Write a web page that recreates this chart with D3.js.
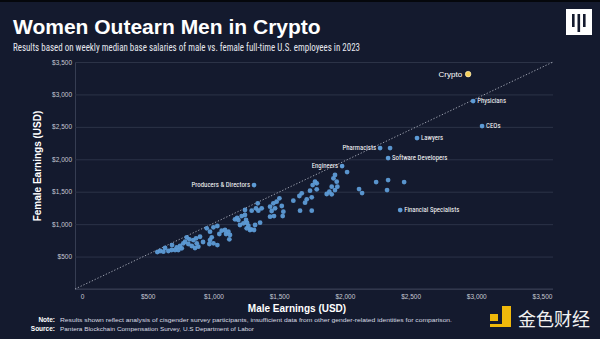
<!DOCTYPE html>
<html><head><meta charset="utf-8">
<script src="https://cdn.jsdelivr.net/npm/d3@7"></script>
<style>body{margin:0;background:#141a2e}svg{display:block}</style>
</head><body><svg id="c" width="600" height="339"></svg>
<script>
// ---- data ----
const xTickValues = [0, 500, 1000, 1500, 2000, 2500, 3000, 3500];
const xTickLabels = ["0", "$500", "$1,000", "$1,500", "$2,000", "$2,500", "$3,000", "$3,500"];
const yTickValues = [0, 500, 1000, 1500, 2000, 2500, 3000, 3500];
const yTickLabels = ["", "$500", "$1,000", "$1,500", "$2,000", "$2,500", "$3,000", "$3,500"];

const labeledNames  = ["Physicians", "CEOs", "Lawyers", "Pharmacists", "Software Developers", "Engineers", "Producers & Directors", "Financial Specialists"];
const labeledMale   = [2976, 3044, 2549, 2268, 2329, 1979, 1309, 2421];
const labeledFemale = [2897, 2512, 2327, 2173, 2018, 1895, 1602, 1217];

const cryptoName = ["Crypto"];
const cryptoMale = [2938];
const cryptoFemale = [3313];

const otherMale = [2238,2329,2451,2108,2131,2321,2344,2017,
 1925,1913,1938,1900,1925,1882,1862,1900,1943,
 1773,1786,1755,1786,1735,1748,1710,1697,1672,1654,1608,1659,1748,
 1502,1481,1456,1431,1469,1520,1443,1532,1431,1461,1527,
 1337,1324,1367,1342,1291,1240,1215,1248,1228,1190,1164,1202,1266,1253,1286,1317,1355,1309,
 1030,1000,974,949,1063,1088,1114,1126,1121,1096,1045,987,974,1000,1030,969,
 898,868,847,817,797,784,809,771,746,721,708,682,657,619,594,573,873,885,835,759,733,
 632,685,860,921,1180,1240,1256,1278];
const otherFemale = [1649,1680,1649,1541,1479,1525,2173,1803,
 1758,1706,1655,1577,1526,1500,1465,1460,1577,
 1655,1629,1603,1537,1516,1413,1383,1331,1475,1434,1362,1207,1207,
 1398,1346,1321,1269,1244,1280,1203,1192,1115,1125,1125,
 1321,1244,1244,1207,1207,1218,1125,1064,1013,1064,1074,987,971,935,920,987,1023,910,
 971,951,884,935,899,910,884,833,766,848,848,797,755,704,678,694,
 806,781,755,766,797,730,694,704,663,643,601,601,586,575,586,570,704,652,663,627,601,
 632,678,632,725,1095,1141,1018,910];

// ---- layout ----
const W = 600, H = 339;
const plotL = 75, plotR = 553, plotT = 62, plotB = 289;
const labelAnchor = {"Physicians":"start","CEOs":"start","Lawyers":"start","Pharmacists":"end",
  "Software Developers":"start","Engineers":"end","Producers & Directors":"end","Financial Specialists":"start"};

const svg = d3.select("#c");
svg.append("rect").attr("width", W).attr("height", H).attr("fill", "#141a2e");
svg.append("rect").attr("width", W).attr("height", 2).attr("fill", "#05070c");

const x = d3.scaleLinear().domain([0, 3500]).range([82, 542]);
const y = d3.scaleLinear().domain([0, 3500]).range([plotB, plotT]);

// title
svg.append("text").attr("x", 13).attr("y", 34)
  .attr("font-family", "'Liberation Sans', Arial, sans-serif").attr("font-weight", "bold")
  .attr("font-size", 21).attr("fill", "#ffffff").text("Women Outearn Men in Crypto");
svg.append("text").attr("x", 13).attr("y", 51)
  .attr("font-family", "'Liberation Sans Narrow','Roboto Condensed','Arial Narrow',sans-serif")
  .attr("font-size", 11).attr("fill", "#e6e8ee")
  .attr("textLength", 347).attr("lengthAdjust", "spacingAndGlyphs")
  .text("Results based on weekly median base salaries of male vs. female full-time U.S. employees in 2023");

// logo
const logo = svg.append("g");
logo.append("rect").attr("x", 566).attr("y", 9).attr("width", 26).attr("height", 26).attr("fill", "#ffffff");
[[572,14,2.6,13],[577.5,14,2.6,18],[583,14,2.6,13]].forEach(r=>{
  logo.append("rect").attr("x", r[0]).attr("y", r[1]).attr("width", r[2]).attr("height", r[3]).attr("fill", "#141a2e");
});

// y axis + grid
const yAxis = d3.axisLeft(y).tickValues(yTickValues)
  .tickFormat((d, i) => yTickLabels[i]).tickSizeInner(-(plotR - plotL)).tickSizeOuter(0).tickPadding(3);
const gy = svg.append("g").attr("transform", `translate(${plotL},0)`).call(yAxis);
gy.select(".domain").attr("stroke", "#363d52");
gy.selectAll(".tick line").attr("stroke", "#2c3347").attr("stroke-width", 1);
gy.selectAll(".tick text").attr("fill", "#c6c9d3").attr("font-size", 6.5)
  .attr("font-family", "'Liberation Sans', Arial, sans-serif");

// x axis
const xAxis = d3.axisBottom(x).tickValues(xTickValues)
  .tickFormat((d, i) => xTickLabels[i]).tickSize(0).tickPadding(5);
const gx = svg.append("g").attr("transform", `translate(0,${plotB})`).call(xAxis);
gx.select(".domain").remove();
gx.selectAll(".tick text").attr("fill", "#c6c9d3").attr("font-size", 6.5)
  .attr("font-family", "'Liberation Sans', Arial, sans-serif");
svg.append("line").attr("x1", plotL).attr("x2", plotR).attr("y1", plotB).attr("y2", plotB)
  .attr("stroke", "#363d52");

// diagonal parity line (corner to corner of plot)
svg.append("line").attr("x1", plotL).attr("y1", y(0)).attr("x2", plotR).attr("y2", y(3500))
  .attr("stroke", "#a9aebb").attr("stroke-width", 0.9).attr("stroke-dasharray", "1.3,1.8");

// axis titles
svg.append("text").attr("transform", `translate(41,166) rotate(-90)`).attr("text-anchor", "middle")
  .attr("font-family", "'Liberation Sans', Arial, sans-serif").attr("font-weight", "bold")
  .attr("font-size", 10).attr("fill", "#ffffff").text("Female Earnings (USD)");
svg.append("text").attr("x", 297).attr("y", 312).attr("text-anchor", "middle")
  .attr("font-family", "'Liberation Sans', Arial, sans-serif").attr("font-weight", "bold")
  .attr("font-size", 10).attr("fill", "#ffffff").text("Male Earnings (USD)");

// points
const others = otherMale.map((m, i) => ({m, f: otherFemale[i]}));
svg.append("g").selectAll("circle").data(others).join("circle")
  .attr("cx", d => x(d.m)).attr("cy", d => y(d.f)).attr("r", 2.4)
  .attr("fill", "#5d9bd6").attr("fill-opacity", 0.95);

const labeled = labeledNames.map((n, i) => ({n, m: labeledMale[i], f: labeledFemale[i]}));
const gl = svg.append("g");
gl.selectAll("circle").data(labeled).join("circle")
  .attr("cx", d => x(d.m)).attr("cy", d => y(d.f)).attr("r", 2.4).attr("fill", "#5d9bd6");
gl.selectAll("text").data(labeled).join("text")
  .attr("x", d => x(d.m) + (labelAnchor[d.n] === "start" ? 4 : -4))
  .attr("y", d => y(d.f) + 2.2)
  .attr("text-anchor", d => labelAnchor[d.n])
  .attr("font-family", "'Liberation Sans Narrow','Roboto Condensed','Arial Narrow',sans-serif")
  .attr("font-size", 6.8).attr("fill", "#ffffff").text(d => d.n);

const crypto = cryptoName.map((n, i) => ({n, m: cryptoMale[i], f: cryptoFemale[i]}));
svg.append("g").selectAll("circle").data(crypto).join("circle")
  .attr("cx", d => x(d.m)).attr("cy", d => y(d.f)).attr("r", 2.8)
  .attr("fill", "#f6cf5a").attr("stroke", "#fff3c8").attr("stroke-width", 0.6);
svg.append("g").selectAll("text").data(crypto).join("text")
  .attr("x", d => x(d.m) - 6).attr("y", d => y(d.f) + 3)
  .attr("text-anchor", "end")
  .attr("font-family", "'Liberation Sans', Arial, sans-serif")
  .attr("font-size", 8).attr("fill", "#ffffff").text(d => d.n);

// footer notes
const ff = "'Liberation Sans', Arial, sans-serif";
svg.append("text").attr("x", 55).attr("y", 322).attr("text-anchor", "end").attr("font-family", ff)
  .attr("font-weight", "bold").attr("font-size", 6.5).attr("fill", "#ffffff").text("Note:");
svg.append("text").attr("x", 60).attr("y", 322).attr("font-family", ff)
  .attr("font-size", 6.2).attr("fill", "#d8dbe3").attr("textLength", 392).attr("lengthAdjust", "spacingAndGlyphs")
  .text("Results shown reflect analysis of cisgender survey participants, insufficient data from other gender-related identities for comparison.");
svg.append("text").attr("x", 55).attr("y", 331).attr("text-anchor", "end").attr("font-family", ff)
  .attr("font-weight", "bold").attr("font-size", 6.5).attr("fill", "#ffffff").text("Source:");
svg.append("text").attr("x", 60).attr("y", 331).attr("font-family", ff)
  .attr("font-size", 6.2).attr("fill", "#d8dbe3").attr("textLength", 194).attr("lengthAdjust", "spacingAndGlyphs")
  .text("Pantera Blockchain Compensation Survey, U.S Department of Labor");

// watermark
const wm = svg.append("g");
wm.append("rect").attr("x", 490).attr("y", 314).attr("width", 8).attr("height", 7).attr("fill", "#f0b90b");
wm.append("path").attr("d", "M502,306 h9 v21 h-21 v-3 h12 z").attr("fill", "#f0b90b");
wm.append("text").attr("x", 518).attr("y", 326).attr("font-family", "'Noto Sans CJK SC', sans-serif")
  .attr("font-size", 18).attr("fill", "#f2f2f2").text("金色财经");
</script></body></html>
